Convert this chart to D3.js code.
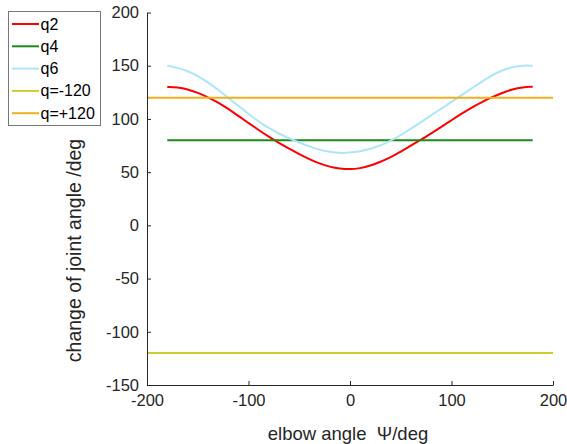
<!DOCTYPE html>
<html>
<head>
<meta charset="utf-8">
<script src="https://cdn.jsdelivr.net/npm/d3@7"></script>
<style>
  body { margin: 0; background: #fff; }
  svg { font-family: "Liberation Sans", Arial, sans-serif; }
</style>
</head>
<body>
<svg id="chart" width="567" height="444"></svg>
<script>
// elbow angle psi (deg)
var psi = [-180, -170, -160, -150, -140, -130, -120, -110, -100, -90, -80, -70, -60, -50, -40, -30, -20, -10,
           0, 10, 20, 30, 40, 50, 60, 70, 80, 90, 100, 110, 120, 130, 140, 150, 160, 170, 180];

var q2 = [130, 129.8, 128, 124.5, 120.5, 115.5, 109.5, 102.8, 96.2, 89.6, 83.2, 77.4, 72, 67, 62.2, 58, 55, 53.2,
          52.6, 53.5, 56, 59.6, 64, 69.2, 75, 80.5, 86.5, 92.5, 98.8, 105, 110.8, 116, 120.5, 124.5, 127.8, 129.8, 130.3];

var q6 = [150, 148.2, 145, 140.5, 134.5, 127.5, 120, 112.3, 104.8, 97.6, 91.3, 86.2, 81.8, 77.8, 74.1, 71, 69, 67.9,
          68.2, 69.5, 71.8, 75, 79.5, 84.8, 90.7, 97, 103.5, 109.7, 116, 122.3, 128.8, 135.2, 141.2, 145.8, 148.8, 150.4, 150];

var q4Psi = [-180, 180];
var q4 = [80, 80];

var limPsi = [-200, 200];
var qMinus = [-120, -120];
var qPlus = [120, 120];

var xTicks = [-200, -100, 0, 100, 200];
var yTicks = [-150, -100, -50, 0, 50, 100, 150, 200];

var series = [
    {name: "q2", x: psi, y: q2, color: "#ff0000"},
    {name: "q4", x: q4Psi, y: q4, color: "#1b8a1b"},
    {name: "q6", x: psi, y: q6, color: "#ade6f7"},
    {name: "q=-120", x: limPsi, y: qMinus, color: "#cccc33"},
    {name: "q=+120", x: limPsi, y: qPlus, color: "#edb120"}
];

var svg = d3.select("#chart"),
    axisColor = "#262626";

var x = d3.scaleLinear().domain([-200, 200]).range([147, 553]);
var y = d3.scaleLinear().domain([-150, 200]).range([385, 12.5]);

// data lines
var line = d3.line()
    .x(function (d) { return x(d[0]); })
    .y(function (d) { return y(d[1]); })
    .curve(d3.curveBasis);

series.forEach(function (s) {
    svg.append("path")
        .datum(d3.zip(s.x, s.y))
        .attr("fill", "none")
        .attr("stroke", s.color)
        .attr("stroke-width", 2)
        .attr("d", line);
});

// axes: inward ticks, no box, plain hyphen minus
var fmt = function (d) { return String(d); };

var xAxis = svg.append("g")
    .attr("transform", "translate(0," + y(-150) + ")")
    .call(d3.axisBottom(x).tickValues(xTicks).tickFormat(fmt)
        .tickSizeInner(-4).tickSizeOuter(0).tickPadding(9));

var yAxis = svg.append("g")
    .attr("transform", "translate(" + x(-200) + ",0)")
    .call(d3.axisLeft(y).tickValues(yTicks).tickFormat(fmt)
        .tickSizeInner(-4).tickSizeOuter(0).tickPadding(8));

[xAxis, yAxis].forEach(function (a) {
    a.attr("font-size", null).attr("font-family", null);
    a.select(".domain").attr("stroke", axisColor);
    a.selectAll(".tick line").attr("stroke", axisColor);
    a.selectAll(".tick text")
        .attr("fill", axisColor)
        .style("font-size", "16.5px");
});

// axis titles
svg.append("text")
    .attr("x", 348)
    .attr("y", 440)
    .attr("text-anchor", "middle")
    .attr("fill", axisColor)
    .style("font-size", "18.5px")
    .style("white-space", "pre")
    .text("elbow angle  \u03A8/deg");

svg.append("text")
    .attr("transform", "translate(81,250.5) rotate(-90)")
    .attr("text-anchor", "middle")
    .attr("fill", axisColor)
    .style("font-size", "19.5px")
    .text("change of joint angle /deg");

// legend
var legend = svg.append("g");

legend.append("rect")
    .attr("x", 8.5)
    .attr("y", 11.5)
    .attr("width", 92)
    .attr("height", 114)
    .attr("fill", "#fff")
    .attr("stroke", "#777");

series.forEach(function (s, i) {
    var ly = 24 + i * 22.3;
    legend.append("line")
        .attr("x1", 12)
        .attr("x2", 39)
        .attr("y1", ly)
        .attr("y2", ly)
        .attr("stroke", s.color)
        .attr("stroke-width", 2);
    legend.append("text")
        .attr("x", 40.5)
        .attr("y", ly + 5.5)
        .attr("fill", "#000")
        .style("font-size", "16px")
        .text(s.name);
});
</script>
</body>
</html>
